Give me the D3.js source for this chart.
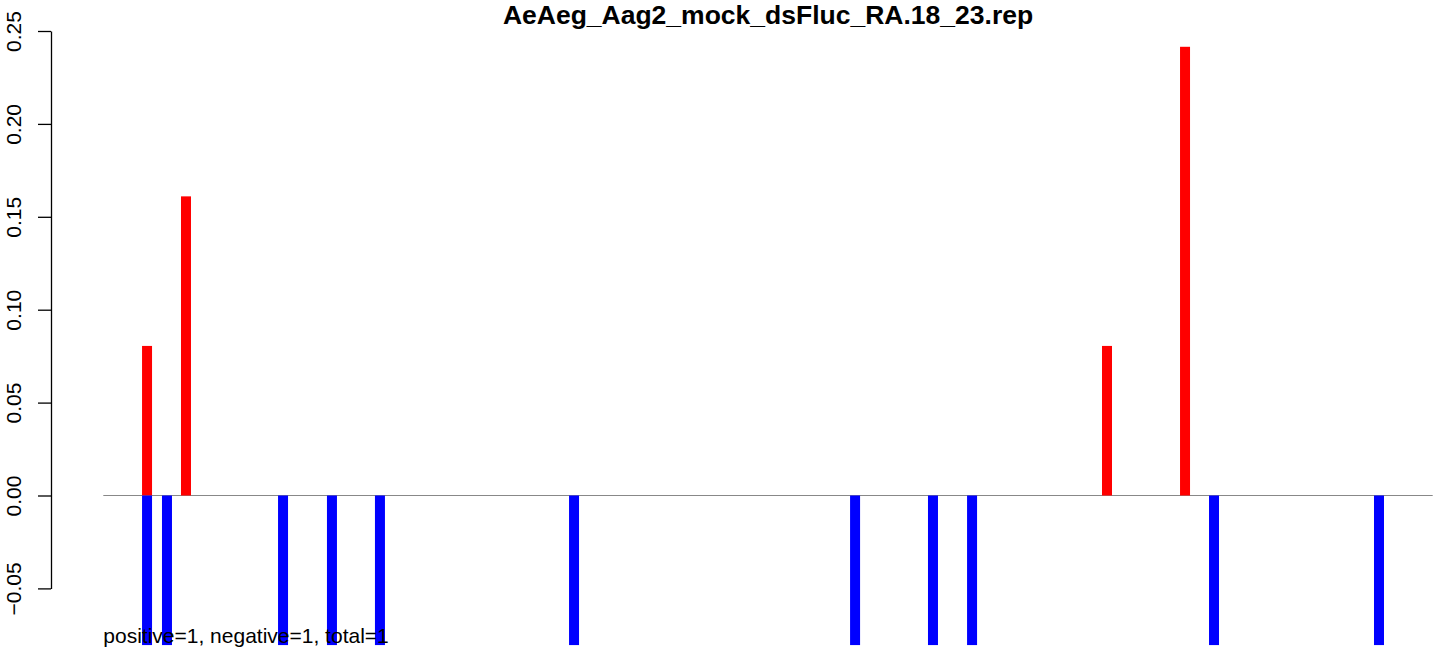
<!DOCTYPE html>
<html>
<head>
<meta charset="utf-8">
<script src="https://cdn.jsdelivr.net/npm/d3@7"></script>
<style>
  html, body { margin: 0; padding: 0; background: #fff; }
  svg { display: block; font-family: "Liberation Sans", Arial, Helvetica, sans-serif; }
</style>
</head>
<body>
<svg id="chart" width="1444" height="656"></svg>
<script>
// ---- data ----
const title = "AeAeg_Aag2_mock_dsFluc_RA.18_23.rep";
const footer = "positive=1, negative=1, total=1";
// positions along the x domain (0..100)
const posX = [3.29, 6.22, 75.50, 81.37];
const posY = [0.0805, 0.161, 0.0805, 0.2415];
const negX = [3.29, 4.79, 13.52, 17.20, 20.81, 35.41, 56.55, 62.41, 65.35, 83.55, 95.96];
const negY = [-0.0805, -0.0805, -0.0805, -0.0805, -0.0805, -0.0805, -0.0805, -0.0805, -0.0805, -0.0805, -0.0805];
const yTicks = [-0.05, 0.00, 0.05, 0.10, 0.15, 0.20, 0.25];
const xDomain = [0, 100];

// ---- layout ----
const svg = d3.select("#chart");
const plotLeft = 103.3, plotRight = 1432.7;
const x = d3.scaleLinear().domain(xDomain).range([plotLeft, plotRight]);
const y = d3.scaleLinear().domain([-0.05, 0.25]).range([588.4, 31]);
const barW = 10;

// title
svg.append("text")
  .attr("x", (plotLeft + plotRight) / 2)
  .attr("y", 24)
  .attr("text-anchor", "middle")
  .attr("font-weight", "bold")
  .attr("font-size", 26.5)
  .attr("fill", "#000")
  .text(title);

// zero line
svg.append("line")
  .attr("x1", plotLeft).attr("x2", plotRight)
  .attr("y1", y(0)).attr("y2", y(0))
  .attr("stroke", "#888").attr("stroke-width", 1.2);

// positive bars
svg.append("g").selectAll("rect")
  .data(posX.map((d, i) => ({ x: d, v: posY[i] })))
  .join("rect")
  .attr("x", d => x(d.x) - barW / 2)
  .attr("width", barW)
  .attr("y", d => y(d.v))
  .attr("height", d => y(0) - y(d.v))
  .attr("fill", "#ff0000");

// negative bars
svg.append("g").selectAll("rect")
  .data(negX.map((d, i) => ({ x: d, v: negY[i] })))
  .join("rect")
  .attr("x", d => x(d.x) - barW / 2)
  .attr("width", barW)
  .attr("y", y(0))
  .attr("height", d => y(d.v) - y(0))
  .attr("fill", "#0000ff");

// y axis
const axisX = 51;
const ax = svg.append("g")
  .attr("transform", `translate(${axisX},0)`)
  .call(d3.axisLeft(y).tickValues(yTicks).tickFormat(d3.format(".2f")).tickSize(13).tickSizeOuter(0));
ax.select(".domain").attr("stroke", "#000").attr("stroke-width", 1.3);
ax.selectAll(".tick line").attr("stroke", "#000").attr("stroke-width", 1.3);
ax.selectAll(".tick text")
  .attr("x", null).attr("dy", null)
  .attr("transform", `translate(${21 - axisX},0) rotate(-90)`)
  .attr("text-anchor", "middle")
  .attr("font-size", 21)
  .attr("font-family", "'Liberation Sans', Arial, Helvetica, sans-serif")
  .attr("fill", "#000");

// footer text
svg.append("text")
  .attr("x", plotLeft)
  .attr("y", 643)
  .attr("font-size", 21)
  .attr("fill", "#000")
  .text(footer);
</script>
</body>
</html>
